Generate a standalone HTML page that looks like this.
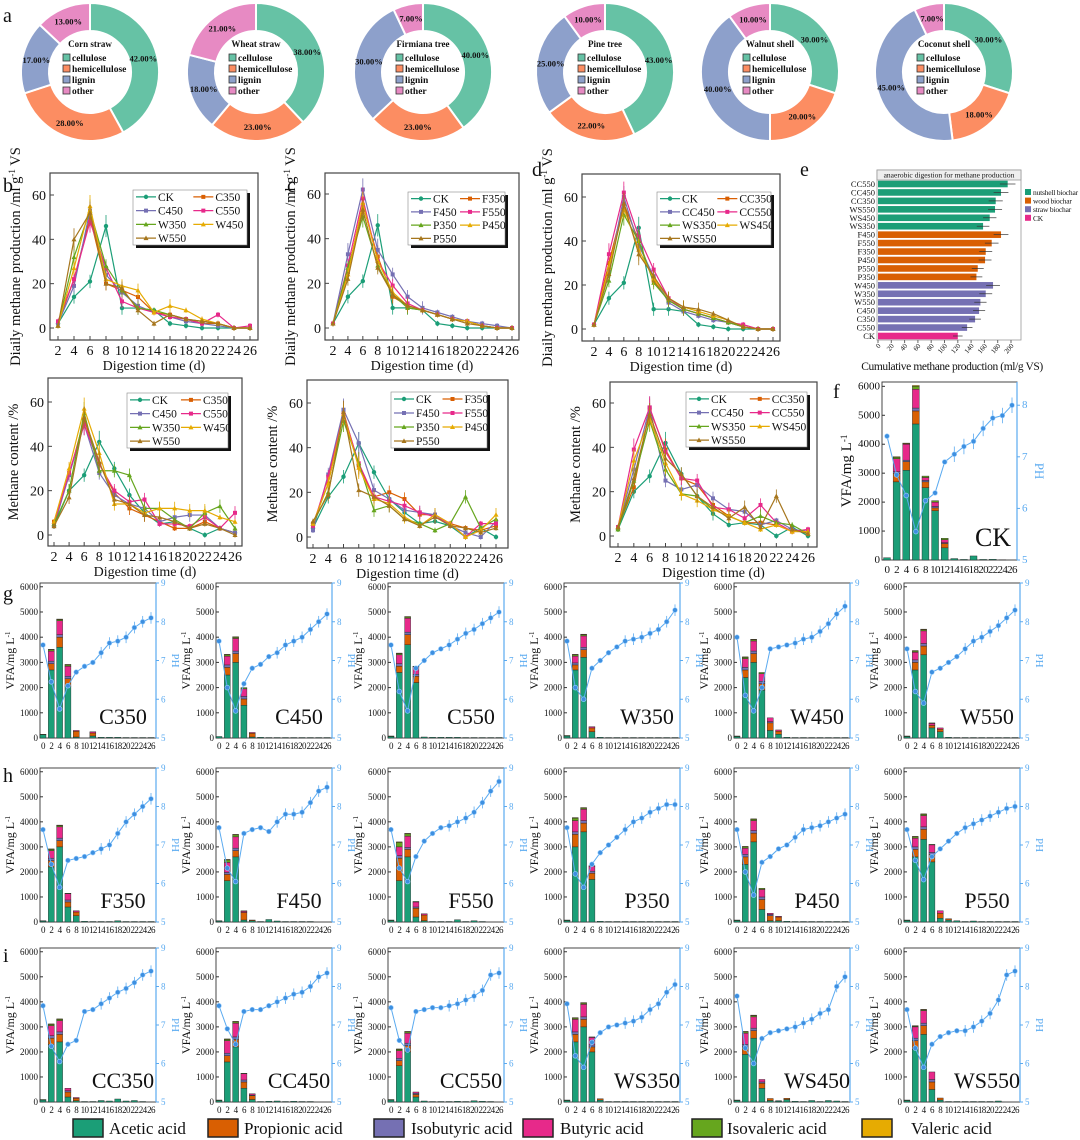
<!DOCTYPE html>
<html><head><meta charset="utf-8">
<style>
html,body{margin:0;padding:0;background:#fff;}
svg{display:block;font-family:"Liberation Serif",serif;}
</style></head>
<body>
<svg id="fig" width="1080" height="1140" viewBox="0 0 1080 1140" xmlns="http://www.w3.org/2000/svg"></svg>
<script>
// ---------- Panel a data ----------
const donutNames=['Corn straw','Wheat straw','Firmiana tree','Pine tree','Walnut shell','Coconut shell'];
const cellulose=[42,38,40,43,30,30];
const hemicellulose=[28,23,23,22,20,18];
const lignin=[17,18,30,25,40,45];
const otherComp=[13,21,7,10,10,7];

// ---------- Panels b-d data (days 2..26) ----------
const days=[2,4,6,8,10,12,14,16,18,20,22,24,26];
const namesB=['CK','C350','C450','C550','W350','W450','W550'];
const namesC=['CK','F350','F450','F550','P350','P450','P550'];
const namesD=['CK','CC350','CC450','CC550','WS350','WS450','WS550'];
const dailyB={CK:[2,14,21,46,9,9,8,2,1,0,0,0,0],C350:[2,22,50,20,17,14,7,6,4,2,2,0,0],C450:[2,19,53,24,16,10,7,5,3,2,1,0,0],C550:[3,22,48,27,12,9,7,5,4,2,6,0,1],W350:[1,32,53,28,17,9,8,6,4,3,2,0,0],W450:[1,27,55,22,19,17,7,10,8,4,2,0,0],W550:[1,40,52,20,18,8,2,6,4,3,2,0,0]};
const dailyC={CK:[2,14,21,46,9,9,8,2,1,0,0,0,0],F350:[2,25,55,32,14,10,8,6,4,3,1,0,0],F450:[2,33,62,35,24,14,9,7,5,3,2,1,0],F550:[2,28,58,30,19,11,8,6,4,3,1,0,0],P350:[2,27,50,28,15,9,8,6,4,3,1,0,0],P450:[2,24,56,30,16,10,8,6,4,3,1,0,0],P550:[2,22,53,27,15,10,8,6,4,2,1,0,0]};
const dailyD={CK:[2,14,21,46,9,9,8,2,1,0,0,0,0],CC350:[2,30,57,40,22,13,9,7,5,3,1,0,0],CC450:[2,26,60,38,24,12,8,6,4,3,1,0,0],CC550:[2,34,62,42,27,14,9,7,5,3,2,0,0],WS350:[2,22,52,40,21,13,9,7,5,3,1,0,0],WS450:[2,28,55,36,23,14,10,8,6,4,1,0,0],WS550:[2,25,57,34,24,14,10,9,7,4,1,0,0]};
const contentB={CK:[4,20,27,42,30,18,10,5,6,3,0,3,1],C350:[6,27,52,32,19,12,9,6,3,3,6,3,1],C450:[4,27,50,28,18,14,12,6,8,9,9,3,1],C550:[5,28,50,32,20,15,16,5,5,4,8,3,10],W350:[5,20,55,29,29,27,12,12,7,3,10,13,3],W450:[6,30,57,37,14,14,10,12,12,11,11,8,6],W550:[4,17,53,33,16,14,9,8,6,3,5,3,0]};
const contentC={CK:[4,18,27,42,29,17,11,6,7,5,0,4,0],F350:[6,24,56,32,18,20,17,10,10,6,4,3,5],F450:[3,28,57,42,21,17,12,11,10,5,2,0,7],F550:[5,27,55,33,18,16,14,11,9,6,0,6,6],P350:[6,20,52,33,12,14,8,6,3,6,18,4,8],P450:[6,24,55,31,17,15,9,5,10,6,0,3,10],P550:[7,19,56,21,18,14,8,5,9,5,4,2,4]};
const contentD={CK:[3,20,27,42,28,18,10,5,6,5,0,4,0],CC350:[4,22,57,39,26,23,14,9,6,6,5,2,2],CC450:[4,30,58,25,21,23,17,12,11,5,7,3,2],CC550:[4,39,58,38,26,25,13,12,8,14,6,2,3],WS350:[3,25,52,30,19,18,12,9,6,9,6,5,1],WS450:[4,34,53,33,19,16,12,9,6,3,5,2,2],WS550:[4,26,55,35,28,18,13,8,13,4,18,3,1]};

// ---------- Panel e data ----------
const cumNames=['CC550','CC450','CC350','WS550','WS450','WS350','F450','F550','F350','P450','P550','P350','W450','W350','W550','C450','C350','C550','CK'];
const cumValues=[195,185,177,176,168,158,185,171,162,161,150,148,173,162,154,152,146,134,120];
const cumGroup=['nut','nut','nut','nut','nut','nut','wood','wood','wood','wood','wood','wood','straw','straw','straw','straw','straw','straw','ck'];
const cumTicks=[0,20,40,60,80,100,120,140,160,180,200];

// ---------- VFA / pH data (days 0..26) ----------
const vfaDays=[0,2,4,6,8,10,12,14,16,18,20,22,24,26];
const acetic={CK:[80,2700,3100,4700,2500,1700,420,50,20,140,20,25,10,0],
C350:[130,2700,3600,2050,40,0,80,30,30,30,20,20,20,20],C450:[60,2500,3000,1300,40,30,20,20,20,20,20,20,20,20],C550:[60,2600,3700,2200,40,30,30,30,30,20,20,20,20,20],W350:[80,2700,3200,250,30,20,20,20,20,20,20,20,20,20],W450:[60,2400,3000,1900,300,150,30,20,20,20,20,20,20,20],W550:[60,2700,3300,400,250,30,20,20,20,20,20,20,20,20],
F350:[40,2200,3000,600,250,30,20,20,20,50,20,20,20,20],F450:[40,1650,2600,80,50,20,100,40,20,20,20,20,0,0],F550:[60,1650,2600,200,50,20,20,20,90,20,50,20,0,0],P350:[60,3000,3600,1700,30,20,20,20,20,20,20,20,20,20],P450:[60,2300,3200,500,50,50,30,20,20,20,20,20,20,20],P550:[60,2600,3300,2400,150,80,50,20,40,20,20,20,20,20],
CC350:[80,2300,2400,200,50,20,20,60,40,120,40,60,20,0],CC450:[60,1600,2200,550,100,20,30,40,20,30,20,20,0,0],CC550:[80,1450,2000,200,40,20,20,20,30,20,50,30,20,0],WS350:[60,2400,3000,2000,80,20,20,20,20,20,20,20,20,20],WS450:[60,1900,2550,550,60,40,100,30,20,60,20,60,40,20],WS550:[60,2100,2700,500,80,20,20,20,20,20,20,40,0,0]};
const propionic={CK:[0,300,300,450,200,100,150],C350:[0,250,400,300,230,0,120],C450:[0,300,350,250,150],C550:[0,250,400,250],W350:[0,200,300,150],W450:[0,300,350,250,300,120],W550:[0,300,350,100,100],
F350:[0,250,250,200,150],F450:[0,250,250,300,30],F550:[0,900,300,350,230],P350:[0,500,350,250],P450:[0,300,350,400,200,150],P550:[0,300,400,300,200,50],
CC350:[0,250,300,200,100],CC450:[0,250,300,250,150],CC550:[0,200,250,100],WS350:[0,300,300,200,50],WS450:[0,300,300,200,80,10,50],WS550:[0,350,350,300,80]};
const isobutyric={CK:[0,50,50,100,50,50,30],C350:[0,100,100,100],C450:[0,100,100,100],C550:[0,100,100,80],W350:[0,80,100],W450:[0,100,100,100,50],W550:[0,100,100],
F350:[0,100,100,80],F450:[0,80,100],F550:[0,100,80,50],P350:[0,100,100,80],P450:[0,100,100,100,50],P550:[0,100,100,80],
CC350:[0,100,100,50],CC450:[0,100,100,80,30],CC550:[0,100,100,50],WS350:[0,100,100,80],WS450:[0,100,100,50],WS550:[0,100,100,100]};
const butyric={CK:[0,450,550,650,100,150,100],C350:[0,400,550,400,30,0,50],C450:[0,350,500,300,30],C550:[0,350,550,300],W350:[0,270,450,50],W450:[0,350,400,300,150,50],W550:[0,300,500,80,50],
F350:[0,300,450,250,50],F450:[0,400,450,50],F550:[0,350,450,200,50],P350:[0,450,450,200],P450:[0,250,400,300,50,30],P550:[0,350,450,300,100],
CC350:[0,400,450,100,30],CC450:[0,500,550,250,50],CC550:[0,300,400,50],WS350:[0,500,500,300],WS450:[0,450,450,100],WS550:[0,450,500,300]};
const isovaleric={CK:[0,50,20,100,50,50,50],C350:[20,50,50,50],C450:[0,50,50,50],C550:[20,50,50,20],W350:[20,50,50],W450:[20,50,50,50],W550:[20,50,50,20],
F350:[10,50,50,20],F450:[10,100,80,20],F550:[20,180,90,20],P350:[20,100,50,20],P450:[20,50,50,50],P550:[20,50,50,20],
CC350:[20,50,50],CC450:[20,50,50,20],CC550:[20,50,50],WS350:[20,50,50,20],WS450:[20,50,50],WS550:[20,30,30]};
const valeric={CK:[0,20,20,30],C350:[0,20,20,20],C450:[0,20,20],C550:[0,20,20],W350:[0,20,20],W450:[0,20,20],W550:[0,20,20],
F350:[0,20,20],F450:[0,20,20],F550:[0,20,20],P350:[0,20,20],P450:[0,20,20],P550:[0,20,20],
CC350:[0,20,20],CC450:[0,20,20],CC550:[0,20,20],WS350:[0,20,20],WS450:[0,20,20],WS550:[0,20,20]};
const ph={CK:[7.4,6.65,6.25,5.55,6.15,6.3,6.9,7.05,7.2,7.3,7.55,7.75,7.8,8.0],
C350:[7.4,6.45,5.75,6.35,6.7,6.85,6.95,7.2,7.45,7.5,7.6,7.85,8.0,8.1],C450:[7.5,6.3,5.7,6.4,6.8,6.9,7.1,7.2,7.4,7.5,7.6,7.8,8.0,8.2],C550:[7.4,6.2,5.7,6.8,7.0,7.2,7.3,7.4,7.55,7.7,7.8,7.95,8.1,8.25],W350:[7.5,6.3,6.0,6.8,7.0,7.2,7.35,7.5,7.55,7.6,7.7,7.8,8.0,8.3],W450:[7.6,6.1,5.7,6.3,7.3,7.35,7.4,7.45,7.55,7.6,7.75,7.95,8.2,8.4],W550:[7.3,6.2,5.9,6.7,6.8,6.95,7.1,7.3,7.5,7.6,7.75,7.9,8.1,8.3],
F350:[7.4,6.5,5.9,6.6,6.65,6.7,6.8,6.9,7.0,7.3,7.6,7.8,8.0,8.2],F450:[7.45,6.4,6.05,7.3,7.4,7.45,7.35,7.6,7.8,7.8,7.85,8.1,8.4,8.5],F550:[7.4,6.4,6.05,6.7,7.1,7.3,7.45,7.5,7.6,7.7,7.85,8.1,8.4,8.65],P350:[7.45,6.25,5.9,6.5,6.8,7.0,7.2,7.4,7.6,7.7,7.85,7.95,8.05,8.05],P450:[7.4,6.3,5.7,6.55,6.7,6.9,7.0,7.2,7.4,7.45,7.5,7.6,7.7,7.8],P550:[7.4,6.6,6.1,6.7,6.9,7.1,7.3,7.45,7.55,7.65,7.75,7.85,7.95,8.0],
CC350:[7.5,6.45,6.05,6.5,6.6,7.35,7.4,7.55,7.7,7.85,7.95,8.1,8.3,8.4],CC450:[7.5,6.9,6.5,7.35,7.4,7.4,7.5,7.6,7.7,7.8,7.85,8.0,8.25,8.35],CC550:[7.45,6.6,6.35,7.35,7.4,7.45,7.45,7.5,7.55,7.65,7.75,7.9,8.3,8.35],WS350:[7.55,6.2,5.9,6.55,6.8,6.95,7.0,7.05,7.1,7.2,7.4,7.55,7.85,8.05],WS450:[7.75,6.4,6.0,6.65,6.8,6.85,6.9,6.95,7.05,7.15,7.3,7.4,8.0,8.25],WS550:[7.4,6.4,5.9,6.5,6.7,6.8,6.85,6.85,6.95,7.1,7.3,7.65,8.3,8.4]};
const rowG=['C350','C450','C550','W350','W450','W550'];
const rowH=['F350','F450','F550','P350','P450','P550'];
const rowI=['CC350','CC450','CC550','WS350','WS450','WS550'];
const acidNames=['Acetic acid','Propionic acid','Isobutyric acid','Butyric acid','Isovaleric acid','Valeric acid'];

// ---------- helpers ----------
const NS='http://www.w3.org/2000/svg';
const svg=document.getElementById('fig');
function mk(tag,attrs,name,parent){
  const el=document.createElementNS(NS,tag);
  for(const k in attrs) el.setAttribute(k,attrs[k]);
  
  
  (parent||svg).appendChild(el);
  return el;
}
function txt(x,y,s,size,name,extra,parent){
  const a=Object.assign({x:x,y:y,'font-size':size,fill:'#111'},extra||{});
  const t=mk('text',a,name,parent); t.textContent=s; return t;
}
function letter(x,y,s){txt(x,y,s,20,'panel-label-'+s);}

// ---------- Panel a: donuts ----------
const dCx=[90,256,423,605,770,944];
const dCol=['#66c2a5','#fc8d62','#8da0cb','#e78ac3'];
const legendLbl=['cellulose','hemicellulose','lignin','other'];
letter(3,22,'a');
function pt(cx,cy,r,a){return [cx+r*Math.sin(a),cy-r*Math.cos(a)];}
donutNames.forEach((nm,k)=>{
  const vals=[cellulose[k],hemicellulose[k],lignin[k],otherComp[k]];
  const tot=vals.reduce((a,b)=>a+b,0);
  const cx=dCx[k],cy=72,R=69,r=41;
  const g=mk('g',{},'donut-'+nm.toLowerCase().replace(' ','-'));
  let a0=0;
  vals.forEach((v,i)=>{
    const a1=a0+v/tot*2*Math.PI;
    const large=(a1-a0)>Math.PI?1:0;
    const p1=pt(cx,cy,R,a0),p2=pt(cx,cy,R,a1),p3=pt(cx,cy,r,a1),p4=pt(cx,cy,r,a0);
    mk('path',{d:`M${p1[0]},${p1[1]}A${R},${R} 0 ${large} 1 ${p2[0]},${p2[1]}L${p3[0]},${p3[1]}A${r},${r} 0 ${large} 0 ${p4[0]},${p4[1]}Z`,fill:dCol[i],stroke:'#fff','stroke-width':2},'slice-'+legendLbl[i],g);
    const m=pt(cx,cy,(R+r)/2,(a0+a1)/2);
    txt(m[0],m[1]+3,v.toFixed(2)+'%',8.5,'slice-value',{'text-anchor':'middle','font-weight':'bold'},g);
    a0=a1;
  });
  txt(cx,cy-25,nm,9,'donut-title',{'text-anchor':'middle','font-weight':'bold'},g);
  legendLbl.forEach((l,i)=>{
    const y=cy-18+i*11;
    mk('rect',{x:cx-27,y:y,width:7,height:7,fill:dCol[i],stroke:'#333','stroke-width':0.8},'legend-swatch',g);
    txt(cx-18,y+7,l,9.5,'legend-entry',{'font-weight':'bold'},g);
  });
});

// ---------- Panels b-d: line charts ----------
const sCol=['#1b9e77','#d95f02','#7570b3','#e7298a','#66a61e','#e6ab02','#a6761d'];
const sShape=['c','s','s','s','t','t','t'];
function marker(x,y,i,g){
  if(sShape[i]==='c') mk('circle',{cx:x,cy:y,r:2.2,fill:sCol[i]},'marker',g);
  else if(sShape[i]==='s') mk('rect',{x:x-2,y:y-2,width:4,height:4,fill:sCol[i]},'marker',g);
  else mk('path',{d:`M${x},${y-2.6}L${x+2.5},${y+2}L${x-2.5},${y+2}Z`,fill:sCol[i]},'marker',g);
}
function linePanel(c,names,data,ylabel,pname){
  const g=mk('g',{},pname);
  const X=d=>c.x2+(d-2)*(c.x26-c.x2)/24;
  const Y=v=>c.y0-v*(c.y0-c.y60)/60;
  mk('rect',{x:c.bx0,y:c.by0,width:c.bx1-c.bx0,height:c.by1-c.by0,fill:'none',stroke:'#444','stroke-width':1.2},'plot-frame',g);
  [0,20,40,60].forEach(v=>{
    mk('line',{x1:c.bx0,x2:c.bx0+4,y1:Y(v),y2:Y(v),stroke:'#444'},'y-tick',g);
    txt(c.bx0-4,Y(v)+5,String(v),14,'y-tick-label',{'text-anchor':'end'},g);
  });
  days.forEach(d=>{
    mk('line',{x1:X(d),x2:X(d),y1:c.by1,y2:c.by1-4,stroke:'#444'},'x-tick',g);
    txt(X(d),c.by1+15,String(d),14,'x-tick-label',{'text-anchor':'middle'},g);
  });
  txt((c.bx0+c.bx1)/2,c.by1+c.tOff,'Digestion time (d)',14,'x-axis-title',{'text-anchor':'middle'},g);
  const yc=(c.by0+c.by1)/2;
  const yl=txt(c.bx0-30,yc,'',14.5,'y-axis-title',{'text-anchor':'middle',transform:`rotate(-90 ${c.bx0-30} ${yc})`},g);
  yl.innerHTML=ylabel;
  names.forEach((n,i)=>{
    const vals=data[n];
    const sg=mk('g',{},'series-'+n,g);
    let d='';
    vals.forEach((v,j)=>{d+=(j?'L':'M')+X(days[j])+','+Y(v);});
    mk('path',{d:d,fill:'none',stroke:sCol[i],'stroke-width':1.2},'line-'+n,sg);
    vals.forEach((v,j)=>{
      const e=v>30?5:(v>8?3:1.2);
      mk('line',{x1:X(days[j]),x2:X(days[j]),y1:Y(v-e),y2:Y(v+e),stroke:sCol[i],'stroke-width':0.8},'error-bar',sg);
      marker(X(days[j]),Y(v),i,sg);
    });
  });
  // legend
  const L=c.leg,lg=mk('g',{},'legend',g);
  mk('rect',{x:L[0]+3,y:L[1]+3,width:L[2]-L[0]-3,height:L[3]-L[1]-3,fill:'#111'},'legend-shadow',lg);
  mk('rect',{x:L[0],y:L[1],width:L[2]-L[0]-3,height:L[3]-L[1]-3,fill:'#fff',stroke:'#888','stroke-width':0.6},'legend-box',lg);
  const rh=(L[3]-L[1]-3)/4, cw=(L[2]-L[0])*0.49;
  names.forEach((n,i)=>{
    const col=i%2,row=Math.floor(i/2);
    const x=L[0]+3+col*cw, y=L[1]+rh*(row+0.5);
    mk('line',{x1:x,x2:x+20,y1:y,y2:y,stroke:sCol[i],'stroke-width':1.2},'legend-line',lg);
    marker(x+10,y,i,lg);
    txt(x+22,y+4,n,11.5,'legend-entry',{},lg);
  });
}
const dailyLbl='Diaily methane production /ml g<tspan dy="-5" font-size="9">-1</tspan><tspan dy="5"> VS</tspan>';
const contLbl='Methane content /%';
linePanel({bx0:50,by0:173,bx1:258,by1:340,x2:58,x26:250,y60:195,y0:328,tOff:30,leg:[133,190,250,248]},namesB,dailyB,dailyLbl,'panel-b-daily');
linePanel({bx0:325,by0:173,bx1:519,by1:340,x2:333,x26:512,y60:194,y0:328,tOff:30,leg:[408,192,508,248]},namesC,dailyC,dailyLbl,'panel-c-daily');
linePanel({bx0:582,by0:174,bx1:780,by1:341,x2:594,x26:773,y60:197,y0:329,tOff:30,leg:[657,192,774,248]},namesD,dailyD,dailyLbl,'panel-d-daily');
linePanel({bx0:48,by0:378,bx1:242,by1:546,x2:54,x26:235,y60:402,y0:535,tOff:30,leg:[127,393,231,451]},namesB,contentB,contLbl,'panel-b-content');
linePanel({bx0:307,by0:380,bx1:508,by1:548,x2:313,x26:496,y60:403,y0:537,tOff:30,leg:[391,392,490,451]},namesC,contentC,contLbl,'panel-c-content');
linePanel({bx0:610,by0:382,bx1:817,by1:547,x2:618,x26:808,y60:403,y0:536,tOff:30,leg:[686,392,810,450]},namesD,contentD,contLbl,'panel-d-content');
letter(3,192,'b');letter(287,192,'c');letter(532,176,'d');letter(800,176,'e');letter(833,398,'f');
letter(3,600,'g');letter(3,782,'h');letter(3,962,'i');

// ---------- Panel e ----------
(function(){
  const g=mk('g',{},'panel-e-cumulative');
  const bx0=877,bx1=1021,by0=170,by1=340;
  const X=v=>878+v*(1011-878)/200;
  const grpCol={nut:'#1b9e77',wood:'#d95f02',straw:'#7570b3',ck:'#e7298a'};
  mk('rect',{x:bx0,y:by0,width:bx1-bx0,height:by1-by0,fill:'#fff',stroke:'#999','stroke-width':0.8},'plot-frame',g);
  mk('rect',{x:bx0,y:by0,width:bx1-bx0,height:10,fill:'#eee',stroke:'#999','stroke-width':0.8},'title-strip',g);
  txt((bx0+bx1)/2,by0+7.5,'anaerobic digestion for methane production',7.5,'panel-title',{'text-anchor':'middle'},g);
  cumNames.forEach((n,i)=>{
    const y=184+i*(336-184)/18;
    mk('rect',{x:X(0),y:y-3.3,width:X(cumValues[i])-X(0),height:6.6,fill:grpCol[cumGroup[i]]},'bar-'+n,g);
    const e=cumValues[i]*0.06;
    mk('line',{x1:X(cumValues[i]-e),x2:X(cumValues[i]+e),y1:y,y2:y,stroke:'#333','stroke-width':0.7},'error-bar',g);
    txt(bx0-2,y+3,n,8.5,'category-label',{'text-anchor':'end'},g);
  });
  cumTicks.forEach(t=>{
    mk('line',{x1:X(t),x2:X(t),y1:by1,y2:by1+3,stroke:'#666'},'x-tick',g);
    txt(X(t)+3,by1+6,String(t),7,'x-tick-label',{'text-anchor':'end',transform:`rotate(-50 ${X(t)+3} ${by1+6})`},g);
  });
  txt(952,370,'Cumulative methane production (ml/g VS)',11.5,'x-axis-title',{'text-anchor':'middle','letter-spacing':'-0.4'},g);
  [['nutshell biochar','#1b9e77'],['wood biochar','#d95f02'],['straw biochar','#7570b3'],['CK','#e7298a']].forEach((l,i)=>{
    const y=189+i*8.6;
    mk('rect',{x:1025,y:y,width:6,height:6,fill:l[1]},'legend-swatch',g);
    txt(1033,y+6,l[0],7.5,'legend-entry',{'letter-spacing':'-0.2'},g);
  });
})();

// ---------- VFA panels ----------
const acidCol=['#1b9e77','#d95f02','#7570b3','#e7298a','#66a61e','#e6ab02'];
const acidData=[acetic,propionic,isobutyric,butyric,isovaleric,valeric];
function vfaPanel(n,c){
  const g=mk('g',{},'vfa-panel-'+n);
  const {x0,x1,y0,y1,phMax,xs,xe,big}=c;
  const Y=v=>y1-v*(y1-y0)/6150;
  const P=p=>y1-(p-5)*(y1-y0)/(phMax-5);
  const X=d=>xs+(d/26)*(xe-xs);
  const bw=(xe-xs)/13*0.72;
  mk('rect',{x:x0,y:y0,width:x1-x0,height:y1-y0,fill:'none',stroke:'#333','stroke-width':0.9},'plot-frame',g);
  mk('line',{x1:x1,x2:x1,y1:y0,y2:y1,stroke:'#5aaaf0','stroke-width':1.2},'ph-axis',g);
  [0,1000,2000,3000,4000,5000,6000].forEach(v=>{
    mk('line',{x1:x0,x2:x0+3,y1:Y(v),y2:Y(v),stroke:'#333'},'y-tick',g);
    txt(x0-2,Y(v)+3,String(v),big?11:9,'y-tick-label',{'text-anchor':'end'},g);
  });
  for(let p=5;p<=Math.floor(phMax);p++){
    mk('line',{x1:x1,x2:x1+3,y1:P(p),y2:P(p),stroke:'#5aaaf0'},'ph-tick',g);
    txt(x1+5,P(p)+3,String(p),big?11:9,'ph-tick-label',{fill:'#5aaaf0'},g);
  }
  vfaDays.forEach(d=>{
    txt(X(d),y1+(big?13:11),String(d),big?11:9,'x-tick-label',{'text-anchor':'middle','letter-spacing':'-0.6'},g);
  });
  const ylX=x0-(big?31:26),yc=(y0+y1)/2;
  const yl=txt(ylX,yc,'',big?15:12,'y-axis-title',{'text-anchor':'middle',transform:`rotate(-90 ${ylX} ${yc})`},g);
  yl.innerHTML='VFA/mg L<tspan dy="-4" font-size="'+(big?9:7)+'">-1</tspan>';
  const phX=x1+(big?18:16);
  txt(phX,yc,'PH',big?13:11,'ph-axis-title',{'text-anchor':'middle',fill:'#5aaaf0',transform:`rotate(90 ${phX} ${yc})`},g);
  vfaDays.forEach((d,j)=>{
    let acc=0;
    acidData.forEach((arr,k)=>{
      const v=(arr[n]&&arr[n][j])||0;
      if(v<=0) return;
      mk('rect',{x:X(d)-bw/2,y:Y(acc+v),width:bw,height:Y(acc)-Y(acc+v),fill:acidCol[k],stroke:'#222','stroke-width':0.4},'bar-'+acidNames[k].split(' ')[0].toLowerCase()+'-day'+d,g);
      acc+=v;
    });
  });
  const pv=ph[n];let d='';
  pv.forEach((p,j)=>{d+=(j?'L':'M')+X(vfaDays[j])+','+P(p);});
  mk('path',{d:d,fill:'none',stroke:'#5aaaf0','stroke-width':1},'ph-line',g);
  pv.forEach((p,j)=>{
    if(j>6){mk('line',{x1:X(vfaDays[j]),x2:X(vfaDays[j]),y1:P(p-0.15),y2:P(p+0.15),stroke:'#5aaaf0','stroke-width':0.8},'ph-error-bar',g);}
    mk('circle',{cx:X(vfaDays[j]),cy:P(p),r:2.4,fill:'#3d8fe0',stroke:'#9cd0ff','stroke-width':0.6},'ph-point',g);
  });
  txt(c.lx,y1-14,n,big?26:22,'panel-sample-label',{'text-anchor':'middle'},g);
}
vfaPanel('CK',{x0:882,x1:1017,y0:382,y1:560,phMax:8.45,xs:887,xe:1012,big:true,lx:993});
const lefts=[40,216,388,564,734,904];
[[rowG,583,738],[rowH,768,922],[rowI,948,1102]].forEach(r=>{
  r[0].forEach((n,i)=>{
    const x0=lefts[i];
    vfaPanel(n,{x0:x0,x1:x0+116,y0:r[1],y1:r[2],phMax:9,xs:x0+3,xe:x0+111,big:false,lx:x0+83});
  });
});

// ---------- bottom legend ----------
const boxX=[73,208,374,523,692,862],textX=[109,244,411,560,727,911];
acidNames.forEach((a,i)=>{
  const g=mk('g',{},'legend-item-'+a.split(' ')[0].toLowerCase());
  mk('rect',{x:boxX[i],y:1119,width:30,height:18,fill:acidCol[i],stroke:'#222','stroke-width':1.5},'legend-swatch',g);
  txt(textX[i],1134,a,17,'legend-label',{},g);
});
</script>
</body></html>
